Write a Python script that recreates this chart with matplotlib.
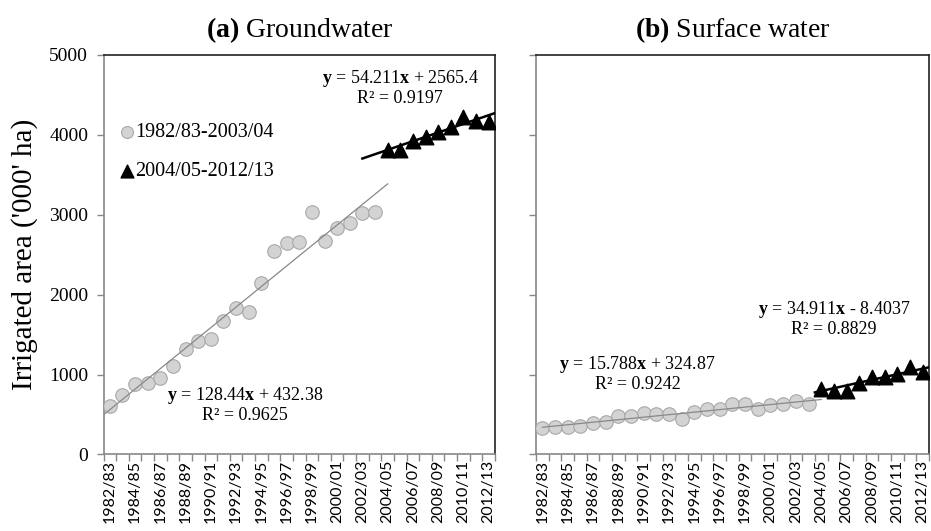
import numpy as np
import matplotlib.pyplot as plt
from matplotlib.ticker import FixedLocator

plt.rcParams['font.family'] = 'Liberation Serif'
plt.rcParams['mathtext.fontset'] = 'custom'
plt.rcParams['mathtext.rm'] = 'Liberation Serif'
plt.rcParams['mathtext.bf'] = 'Liberation Serif:bold'

# seasons on the x axis
seasons = ['1982/83', '1983/84', '1984/85', '1985/86', '1986/87', '1987/88',
           '1988/89', '1989/90', '1990/91', '1991/92', '1992/93', '1993/94',
           '1994/95', '1995/96', '1996/97', '1997/98', '1998/99', '1999/00',
           '2000/01', '2001/02', '2002/03', '2003/04', '2004/05', '2005/06',
           '2006/07', '2007/08', '2008/09', '2009/10', '2010/11', '2011/12',
           '2012/13']

# irrigated area ('000 ha)
gw_early = [610, 750, 883, 896, 958, 1104, 1325, 1425, 1450, 1675, 1833,
            1783, 2146, 2550, 2646, 2654, 3033, 2667, 2840, 2896, 3021, 3029]
gw_late = [3812, 3812, 3917, 3979, 4042, 4096, 4229, 4175, 4167]
sw_early = [333, 345, 345, 358, 395, 408, 479, 479, 520, 504, 504, 450,
            533, 566, 566, 629, 629, 575, 616, 637, 670, 637]
sw_late = [820, 795, 795, 899, 966, 966, 1009, 1092, 1038]

# linear trends printed on the chart (slope, intercept, R2)
gw_early_fit = (128.44, 432.38, 0.9625)
gw_late_fit = (54.211, 2565.4, 0.9197)
sw_early_fit = (15.788, 324.87, 0.9242)
sw_late_fit = (34.911, -8.4037, 0.8829)

label_early = '1982/83-2003/04'
label_late = '2004/05-2012/13'

idx = np.arange(1, len(seasons) + 1)
idx_early = idx[:len(gw_early)]
idx_late = idx[len(gw_early):]

fig = plt.figure(figsize=(9.31, 5.31), dpi=100)
ax1 = fig.add_axes([0.1112, 0.1441, 0.4205, 0.7524])
ax2 = fig.add_axes([0.5757, 0.1441, 0.4221, 0.7524])

circle_style = dict(marker='o', s=95, facecolor='#d3d3d3', edgecolor='#a8a8a8',
                    linewidth=0.8, zorder=3)
tri_style = dict(marker='^', s=110, facecolor='black', edgecolor='black', zorder=3)


def trend(ax, fit, x0, x1, color, lw):
    x = np.array([x0, x1])
    ax.plot(x, fit[0] * x + fit[1], color=color, lw=lw, zorder=4)


def equation(ax, fit, x, y):
    sign = '+' if fit[1] >= 0 else '-'
    ax.text(x, y, r'$\mathbf{y}$ = %s$\mathbf{x}$ %s %s' % (fit[0], sign, abs(fit[1])),
            ha='center', va='center', fontsize=13)
    ax.text(x, y - 250, 'R² = %s' % fit[2], ha='center', va='center', fontsize=13)


def style(ax):
    ax.set_xlim(0.5, len(seasons) + 0.5)
    ax.set_ylim(0, 5000)
    ax.set_yticks(np.arange(0, 5001, 1000))
    ax.set_xticks(idx[::2])
    ax.set_xticklabels(seasons[::2], rotation=90, fontfamily='Lato', fontsize=11.5)
    ax.xaxis.set_minor_locator(FixedLocator(np.arange(0.5, len(seasons) + 1, 1)))
    ax.tick_params(axis='x', which='major', length=0, pad=4)
    ax.tick_params(axis='x', which='minor', length=5, color='#888888', width=1)
    ax.tick_params(axis='y', length=5, color='#888888', width=1, labelsize=14, pad=6)
    for side in ['left', 'bottom']:
        ax.spines[side].set_color('#888888')
        ax.spines[side].set_linewidth(1.2)
    for side in ['top', 'right']:
        ax.spines[side].set_color('#222222')
        ax.spines[side].set_linewidth(1.2)


# (a) groundwater
ax1.scatter(idx_early, gw_early, label=label_early, **circle_style)
ax1.scatter(idx_late, gw_late, label=label_late, **tri_style)
trend(ax1, gw_early_fit, 0.5, 23, '#888888', 0.9)
trend(ax1, gw_late_fit, 21, 31.5, 'black', 1.8)
equation(ax1, gw_early_fit, 11.7, 740)
equation(ax1, gw_late_fit, 24.0, 4700)
style(ax1)
ax1.set_ylabel("Irrigated area ('000' ha)", fontsize=21, labelpad=8)
ax1.set_title(r'$\mathbf{(a)}$ Groundwater', fontsize=20, pad=13)
ax1.legend(loc='upper left', bbox_to_anchor=(0.015, 0.86), frameon=False,
           fontsize=14.5, handlelength=0.5, handletextpad=0.2, labelspacing=1.0,
           borderaxespad=0.2, markerscale=0.88)

# (b) surface water
ax2.scatter(idx_early, sw_early, **circle_style)
ax2.scatter(idx_late, sw_late, **tri_style)
trend(ax2, sw_early_fit, 1, 23, '#888888', 0.9)
trend(ax2, sw_late_fit, 22.5, 31.5, 'black', 1.8)
equation(ax2, sw_early_fit, 8.5, 1126)
equation(ax2, sw_late_fit, 24.0, 1814)
style(ax2)
ax2.tick_params(axis='y', labelleft=False)
ax2.set_title(r'$\mathbf{(b)}$ Surface water', fontsize=20, pad=13)

fig.savefig('out.png', dpi=100)
